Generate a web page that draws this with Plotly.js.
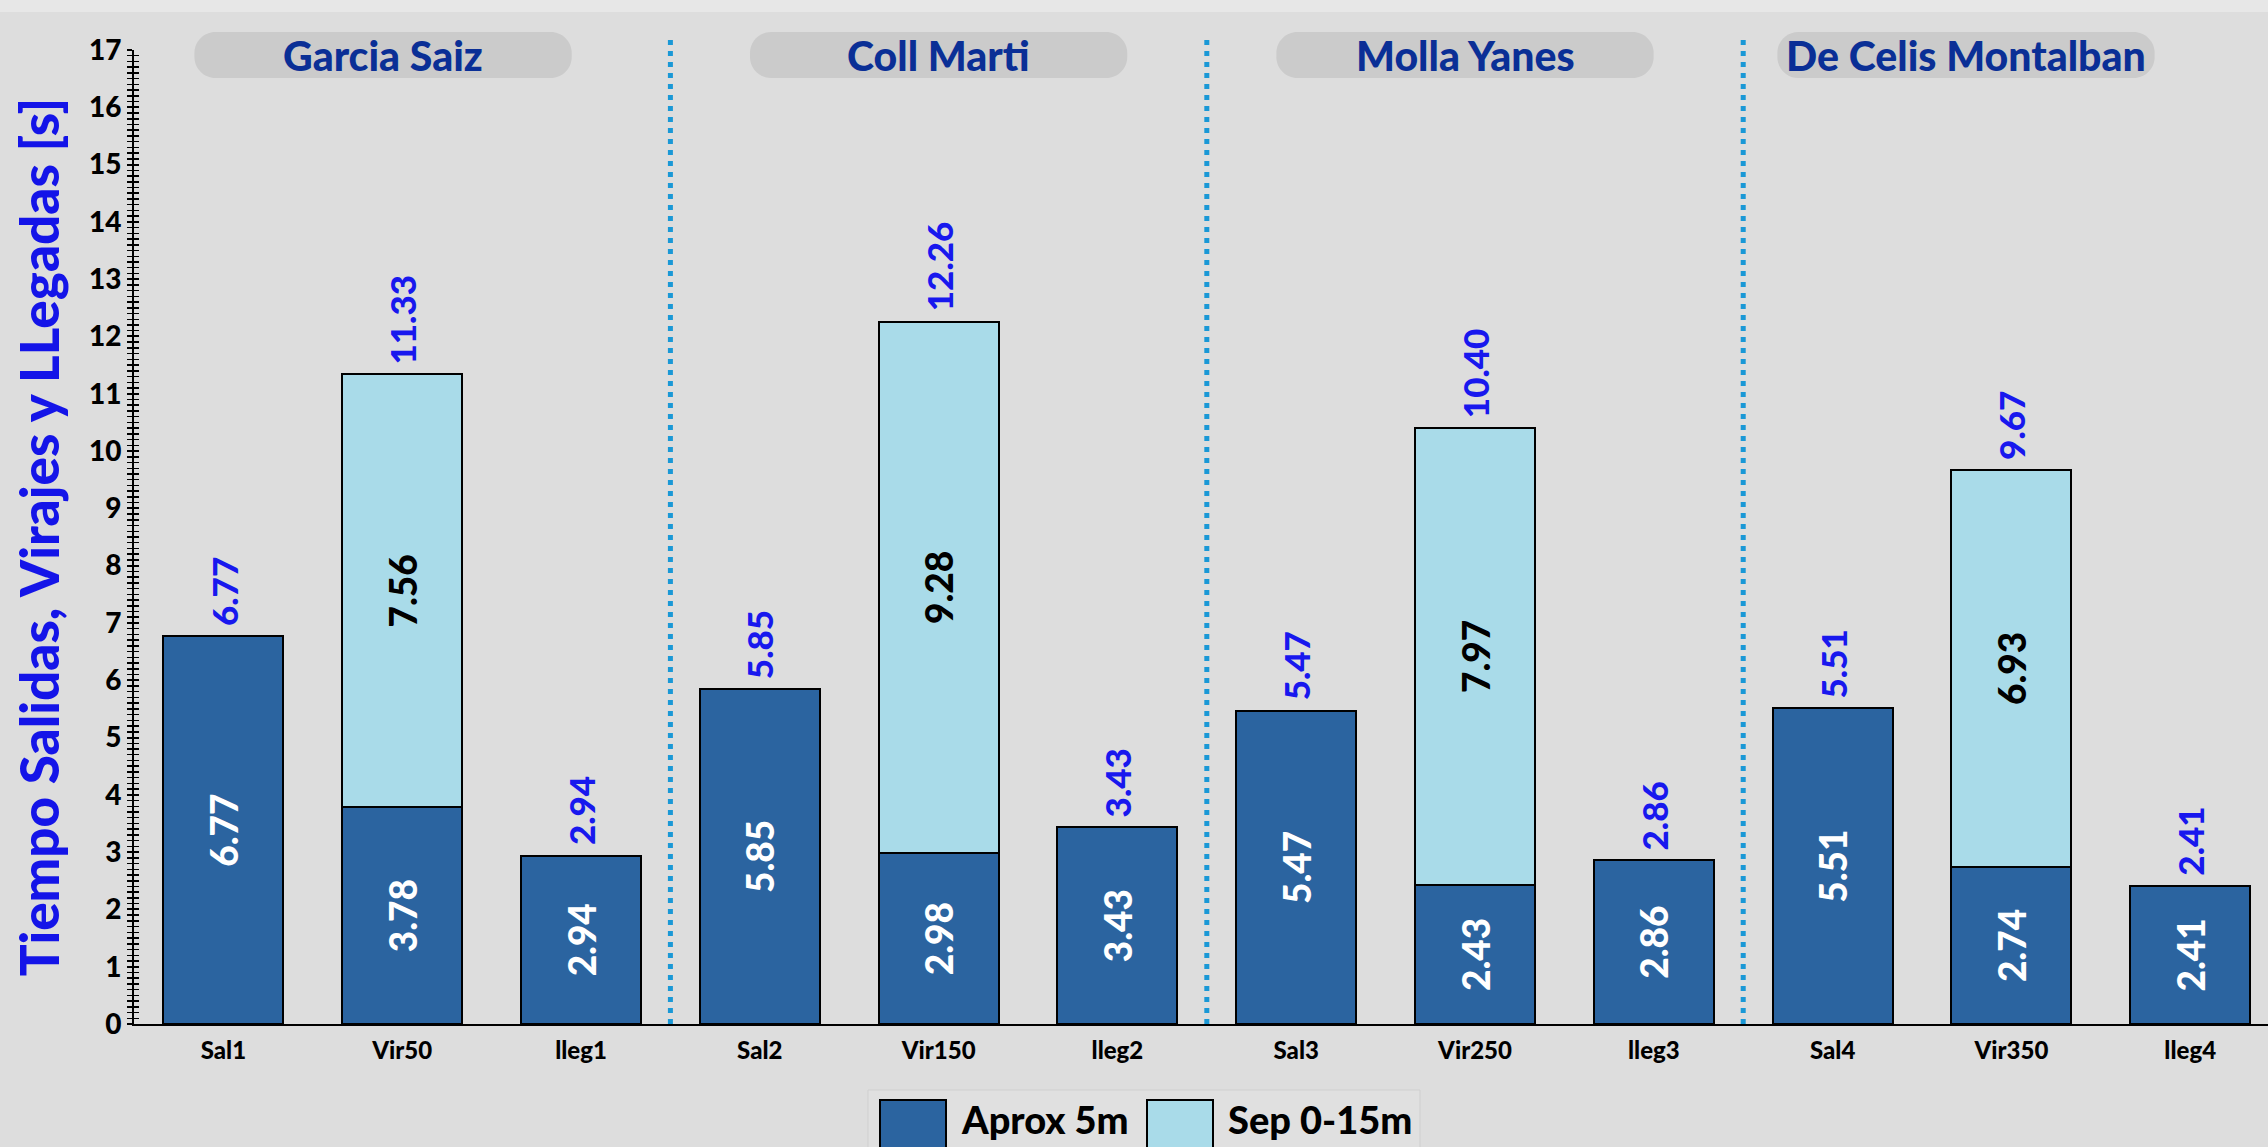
<!DOCTYPE html>
<html>
<head>
<meta charset="utf-8">
<script src="https://cdn.plot.ly/plotly-3.0.1.min.js"></script>
<style>html,body{margin:0;padding:0;background:#dddddd;}#chart{width:2268px;height:1147px;}</style>
</head>
<body>
<div id="chart"></div>
<script>
// ---- data ----
const categories = ["Sal1","Vir50","lleg1","Sal2","Vir150","lleg2","Sal3","Vir250","lleg3","Sal4","Vir350","lleg4"];
const aproxValues = [6.77, 3.78, 2.94, 5.85, 2.98, 3.43, 5.47, 2.43, 2.86, 5.51, 2.74, 2.41];
const sepValues   = [null, 7.56, null, null, 9.28, null, null, 7.97, null, null, 6.93, null];
const totalValues = [6.77, 11.33, 2.94, 5.85, 12.26, 3.43, 5.47, 10.40, 2.86, 5.51, 9.67, 2.41];
const groupNames  = ["Garcia Saiz", "Coll Marti", "Molla Yanes", "De Celis Montalban"];
const seriesNames = ["Aprox 5m", "Sep 0-15m"];
const yTickValues = [0,1,2,3,4,5,6,7,8,9,10,11,12,13,14,15,16,17];

// ---- layout constants ----
const W = 2268, H = 1147;
const M = {l: 134, r: 0, t: 50, b: 123};
const plotW = W - M.l - M.r, plotH = H - M.t - M.b;
const XR = [-0.5, 11.435];
const FONT = "Lato, 'Open Sans', sans-serif";
const WEIGHT = 900;
const darkColor = "#2b64a0", lightColor = "#a9dbe9";
const px2px = v => (v - M.l) / plotW;               // pixel x -> paper x
const py2py = v => (H - M.b - v) / plotH;             // pixel y -> paper y
const d2px = v => (v - XR[0]) / (XR[1] - XR[0]);      // data x -> paper x

function roundRect(x0, x1, y0, y1, rpx) {
  const rx = rpx / plotW, ry = rpx / plotH, k = 0.5523;
  return `M ${x0+rx},${y1} L ${x1-rx},${y1} C ${x1-rx+rx*k},${y1} ${x1},${y1-ry+ry*k} ${x1},${y1-ry} ` +
         `L ${x1},${y0+ry} C ${x1},${y0+ry-ry*k} ${x1-rx+rx*k},${y0} ${x1-rx},${y0} ` +
         `L ${x0+rx},${y0} C ${x0+rx-rx*k},${y0} ${x0},${y0+ry-ry*k} ${x0},${y0+ry} ` +
         `L ${x0},${y1-ry} C ${x0},${y1-ry+ry*k} ${x0+rx-rx*k},${y1} ${x0+rx},${y1} Z`;
}

const fmt = v => (v === null || v === undefined) ? "" : v.toFixed(2);

const traces = [
  {
    type: "bar", name: seriesNames[0], x: categories, y: aproxValues,
    marker: {color: darkColor, line: {color: "#000000", width: 2}},
    text: aproxValues.map(fmt), textposition: "inside", insidetextanchor: "middle",
    textangle: -90, constraintext: "none",
    textfont: {family: FONT, size: 37, color: "#ffffff", weight: WEIGHT},
    showlegend: false, hoverinfo: "x+y"
  },
  {
    type: "bar", name: seriesNames[1], x: categories, y: sepValues,
    marker: {color: lightColor, line: {color: "#000000", width: 2}},
    text: sepValues.map(fmt), textposition: "inside", insidetextanchor: "middle",
    textangle: -90, constraintext: "none",
    textfont: {family: FONT, size: 37, color: "#000000", weight: WEIGHT},
    showlegend: false, hoverinfo: "x+y"
  },
  { // overlay axis for inward ticks
    type: "scatter", x: [categories[0]], y: [0], yaxis: "y2", mode: "none",
    showlegend: false, hoverinfo: "skip"
  }
];

const shapes = [];
const annotations = [];

// top light strip
shapes.push({type: "rect", xref: "paper", yref: "paper", layer: "below",
  x0: px2px(0), x1: px2px(W), y0: py2py(12), y1: py2py(-5),
  fillcolor: "#e7e7e7", line: {width: 0}});

// group pills + labels
const pillOffset = [-0.107, 0, -0.056, -0.254];
const pillHalf = 1.055;
groupNames.forEach((g, i) => {
  const c = i * 3 + 1 + pillOffset[i];
  const x0 = d2px(c - pillHalf), x1 = d2px(c + pillHalf);
  const y0 = py2py(78), y1 = py2py(32);
  shapes.push({type: "path", xref: "paper", yref: "paper", layer: "below",
    path: roundRect(x0, x1, y0, y1, 21), fillcolor: "#cbcbcb", line: {width: 0}});
  annotations.push({xref: "paper", yref: "paper", x: (x0 + x1) / 2, y: (y0 + y1) / 2,
    xanchor: "center", yanchor: "middle", showarrow: false, text: g,
    font: {family: FONT, size: 41, color: "#0a2f96", weight: WEIGHT}});
});

// dotted separators
[2.5, 5.5, 8.5].forEach(v => {
  shapes.push({type: "line", xref: "paper", yref: "paper", layer: "above",
    x0: d2px(v), x1: d2px(v), y0: 0, y1: py2py(35),
    line: {color: "#1a98d6", width: 5, dash: "5px,6px"}});
});

// totals above bars
categories.forEach((c, i) => {
  annotations.push({x: c, y: aproxValues[i] + (sepValues[i] || 0), xref: "x", yref: "y",
    text: fmt(totalValues[i]), textangle: -90, showarrow: false,
    xanchor: "center", yanchor: "bottom", yshift: 8,
    font: {family: FONT, size: 35, color: "#1818ee", weight: WEIGHT}});
});

// custom legend
const legendItems = [
  {name: seriesNames[0], color: darkColor, sx: 880, tx: 959},
  {name: seriesNames[1], color: lightColor, sx: 1147, tx: 1226}
];
shapes.push({type: "rect", xref: "paper", yref: "paper", layer: "below",
  x0: px2px(868), x1: px2px(1420), y0: py2py(1160), y1: py2py(1090),
  fillcolor: "#e0e0e0", line: {color: "#cfcfcf", width: 1}});
legendItems.forEach(it => {
  shapes.push({type: "rect", xref: "paper", yref: "paper",
    x0: px2px(it.sx), x1: px2px(it.sx + 66), y0: py2py(1166), y1: py2py(1100),
    fillcolor: it.color, line: {color: "#000000", width: 2}});
  annotations.push({xref: "paper", yref: "paper", x: px2px(it.tx), y: py2py(1119),
    xanchor: "left", yanchor: "middle", showarrow: false, text: it.name,
    font: {family: FONT, size: 38, color: "#000000", weight: WEIGHT}});
});

const layout = {
  width: W, height: H,
  margin: M,
  paper_bgcolor: "#dddddd",
  plot_bgcolor: "rgba(0,0,0,0)",
  barmode: "stack",
  bargap: 0.329,
  showlegend: false,
  xaxis: {
    type: "category", range: XR, showgrid: false, zeroline: false,
    showline: true, linecolor: "#000000", linewidth: 2, ticks: "",
    ticklabelstandoff: 4,
    tickfont: {family: FONT, size: 24, color: "#000000", weight: WEIGHT},
    fixedrange: true
  },
  yaxis: {
    range: [0, 17], tickvals: yTickValues, showgrid: false, zeroline: false,
    showline: true, linecolor: "#000000", linewidth: 2,
    ticks: "outside", ticklen: 5, tickwidth: 2, tickcolor: "#000000",
    minor: {dtick: 0.1, ticks: "outside", ticklen: 5, tickwidth: 1.5, tickcolor: "#000000"},
    tickfont: {family: FONT, size: 28, color: "#000000", weight: WEIGHT},
    title: {text: "Tiempo Salidas, Virajes y LLegadas [s]", standoff: 12,
      font: {family: FONT, size: 53, color: "#1414e8", weight: WEIGHT}},
    automargin: false, fixedrange: true
  },
  yaxis2: {
    overlaying: "y", side: "left", range: [0, 17], tickvals: yTickValues,
    showticklabels: false, showgrid: false, zeroline: false, showline: false,
    ticks: "inside", ticklen: 5, tickwidth: 2, tickcolor: "#000000",
    minor: {dtick: 0.1, ticks: "inside", ticklen: 5, tickwidth: 1.5, tickcolor: "#000000"},
    fixedrange: true
  },
  shapes: shapes,
  annotations: annotations
};

Plotly.newPlot("chart", traces, layout, {displayModeBar: false, staticPlot: true});
</script>
</body>
</html>
